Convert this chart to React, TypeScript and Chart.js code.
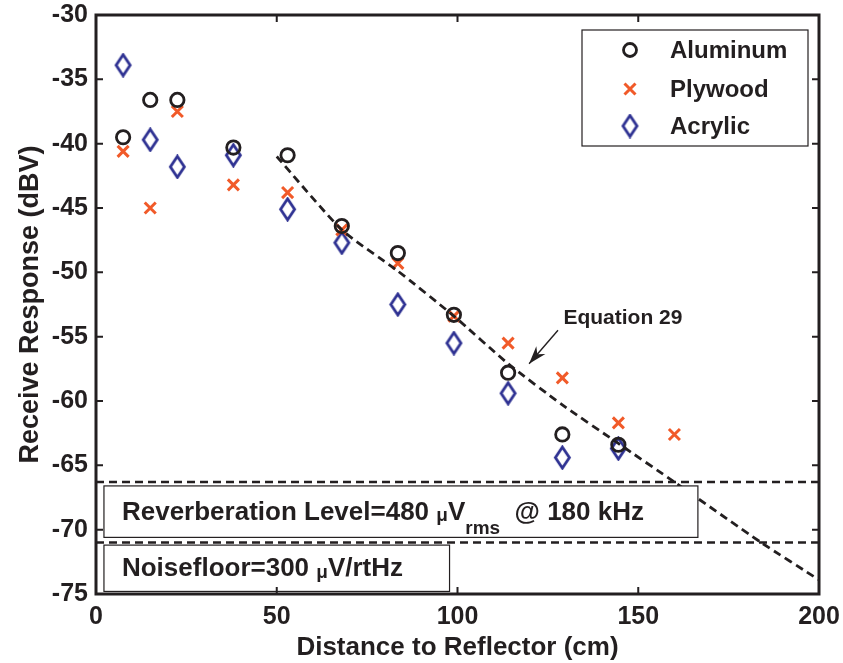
import React, { useEffect, useRef } from "react";
import { Chart, registerables } from "chart.js";

Chart.register(...registerables);

const distance = [7.5, 15, 22.5, 38, 53, 68, 83.5, 99, 114, 129, 144.5, 160];
const aluminum = [-39.5, -36.6, -36.6, -40.3, -40.9, -46.4, -48.5, -53.3, -57.8, -62.6, -63.4, null];
const plywood = [-40.6, -45.0, -37.5, -43.2, -43.8, -46.7, -49.3, -53.4, -55.5, -58.2, -61.7, -62.6];
const acrylic = [-33.9, -39.7, -41.8, -40.9, -45.1, -47.7, -52.5, -55.5, -59.4, -64.4, -63.7, null];
const equationX = [50, 68, 83.5, 99, 114, 129, 144.5, 160, 184, 200];
const equationY = [-41.0, -46.7, -49.9, -53.4, -57.1, -60.3, -63.3, -66.3, -71.0, -73.9];
const reverberationLevel = -66.3;
const noiseFloorLevel = -71.0;
const xTicks = [0, 50, 100, 150, 200];
const yTicks = [-30, -35, -40, -45, -50, -55, -60, -65, -70, -75];
const seriesNames = ["Aluminum", "Plywood", "Acrylic"];

const BLACK = "#231f20";
const ORANGE = "#f15a29";
const BLUE = "#2e3192";
const FONT = "'Liberation Sans', Arial, sans-serif";

function pts(xs: number[], ys: (number | null)[]) {
  const out: { x: number; y: number }[] = [];
  xs.forEach((x, i) => {
    const y = ys[i];
    if (y !== null && y !== undefined) out.push({ x, y });
  });
  return out;
}

function makeDiamond(): HTMLCanvasElement {
  const c = document.createElement("canvas");
  c.width = 19;
  c.height = 25;
  const g = c.getContext("2d")!;
  g.strokeStyle = BLUE;
  g.lineWidth = 2.8;
  g.beginPath();
  g.moveTo(9.5, 2);
  g.lineTo(16.5, 12.5);
  g.lineTo(9.5, 23);
  g.lineTo(2.5, 12.5);
  g.closePath();
  g.stroke();
  return c;
}

function drawCircle(ctx: CanvasRenderingContext2D, x: number, y: number) {
  ctx.save();
  ctx.strokeStyle = BLACK;
  ctx.lineWidth = 2.8;
  ctx.beginPath();
  ctx.arc(x, y, 6.5, 0, Math.PI * 2);
  ctx.stroke();
  ctx.restore();
}
function drawCross(ctx: CanvasRenderingContext2D, x: number, y: number) {
  ctx.save();
  ctx.strokeStyle = ORANGE;
  ctx.lineWidth = 3;
  const r = 5.5;
  ctx.beginPath();
  ctx.moveTo(x - r, y - r);
  ctx.lineTo(x + r, y + r);
  ctx.moveTo(x + r, y - r);
  ctx.lineTo(x - r, y + r);
  ctx.stroke();
  ctx.restore();
}

function makeFramePlugin(diamond: HTMLCanvasElement) {
  return {
    id: "frame",
    afterDraw(chart: any) {
      const ctx: CanvasRenderingContext2D = chart.ctx;
      const { left, right, top, bottom } = chart.chartArea;
      const xs = chart.scales.x;
      const ys = chart.scales.y;
      ctx.save();
      const boxes = [
        { x0: 2.2, x1: 166.5, y0: -66.6, y1: -70.6, parts: "reverb" },
        { x0: 2.2, x1: 97.8, y0: -71.2, y1: -74.8, parts: "noise" },
      ];
      boxes.forEach((b) => {
        const bx0 = xs.getPixelForValue(b.x0);
        const bx1 = xs.getPixelForValue(b.x1);
        const by0 = ys.getPixelForValue(b.y0);
        const by1 = ys.getPixelForValue(b.y1);
        ctx.fillStyle = "#ffffff";
        ctx.fillRect(bx0, by0, bx1 - bx0, by1 - by0);
        ctx.strokeStyle = BLACK;
        ctx.lineWidth = 1.2;
        ctx.strokeRect(bx0, by0, bx1 - bx0, by1 - by0);
        const cy = (by0 + by1) / 2 + 1;
        ctx.fillStyle = BLACK;
        ctx.textBaseline = "middle";
        ctx.textAlign = "left";
        let cx = bx0 + 18;
        const big = "bold 26px " + FONT;
        const small = "bold 19px " + FONT;
        const seg = (t: string, f: string, dy = 0) => {
          ctx.font = f;
          ctx.fillText(t, cx, cy + dy);
          cx += ctx.measureText(t).width;
        };
        if (b.parts === "reverb") {
          seg("Reverberation Level=480 ", big);
          seg("\u03bc", small, 3);
          seg("V", big);
          seg("rms", small, 16);
          seg("  @ 180 kHz", big);
        } else {
          seg("Noisefloor=300 ", big);
          seg("\u03bc", small, 3);
          seg("V/rtHz", big);
        }
      });

      ctx.strokeStyle = BLACK;
      ctx.lineWidth = 3;
      ctx.strokeRect(left, top, right - left, bottom - top);
      ctx.lineWidth = 2;
      const tl = 7;
      xTicks.forEach((v) => {
        const px = xs.getPixelForValue(v);
        ctx.beginPath();
        ctx.moveTo(px, bottom);
        ctx.lineTo(px, bottom - tl);
        ctx.moveTo(px, top);
        ctx.lineTo(px, top + tl);
        ctx.stroke();
      });
      yTicks.forEach((v) => {
        const py = ys.getPixelForValue(v);
        ctx.beginPath();
        ctx.moveTo(left, py);
        ctx.lineTo(left + tl, py);
        ctx.moveTo(right, py);
        ctx.lineTo(right - tl, py);
        ctx.stroke();
      });

      const lx0 = 582, ly0 = 30, lx1 = 808, ly1 = 146;
      ctx.fillStyle = "#ffffff";
      ctx.fillRect(lx0, ly0, lx1 - lx0, ly1 - ly0);
      ctx.lineWidth = 1.2;
      ctx.strokeRect(lx0, ly0, lx1 - lx0, ly1 - ly0);
      const rowsY = [50, 89, 126];
      ctx.font = "bold 24px " + FONT;
      ctx.textBaseline = "middle";
      ctx.textAlign = "left";
      ctx.fillStyle = BLACK;
      seriesNames.forEach((n, i) => {
        ctx.fillText(n, 670, rowsY[i] + 1);
      });
      drawCircle(ctx, 630, rowsY[0]);
      drawCross(ctx, 630, rowsY[1]);
      ctx.drawImage(diamond, 630 - 9.5, rowsY[2] - 12.5);

      ctx.font = "bold 21px " + FONT;
      ctx.fillStyle = BLACK;
      ctx.fillText("Equation 29", xs.getPixelForValue(129.3), ys.getPixelForValue(-53.6));
      const ax0 = xs.getPixelForValue(127.8), ay0 = ys.getPixelForValue(-54.5);
      const ax1 = xs.getPixelForValue(119.8), ay1 = ys.getPixelForValue(-57.1);
      ctx.strokeStyle = BLACK;
      ctx.lineWidth = 1.4;
      ctx.beginPath();
      ctx.moveTo(ax0, ay0);
      ctx.lineTo(ax1, ay1);
      ctx.stroke();
      const ang = Math.atan2(ay1 - ay0, ax1 - ax0);
      const hl = 18, hw = 6;
      ctx.beginPath();
      ctx.moveTo(ax1, ay1);
      ctx.lineTo(ax1 - hl * Math.cos(ang) + hw * Math.sin(ang), ay1 - hl * Math.sin(ang) - hw * Math.cos(ang));
      ctx.lineTo(ax1 - hl * 0.7 * Math.cos(ang), ay1 - hl * 0.7 * Math.sin(ang));
      ctx.lineTo(ax1 - hl * Math.cos(ang) - hw * Math.sin(ang), ay1 - hl * Math.sin(ang) + hw * Math.cos(ang));
      ctx.closePath();
      ctx.fillStyle = BLACK;
      ctx.fill();
      ctx.restore();
    },
  };
}

export default function App() {
  const ref = useRef<HTMLCanvasElement>(null);
  useEffect(() => {
    const diamond = makeDiamond();
    const chart: any = new Chart(ref.current!, {
      type: "scatter",
      data: {
        datasets: [
          {
            label: "Reverberation",
            data: [{ x: 0, y: reverberationLevel }, { x: 200, y: reverberationLevel }],
            showLine: true,
            borderColor: BLACK,
            borderWidth: 2.4,
            borderDash: [8, 5],
            pointRadius: 0,
          },
          {
            label: "Noisefloor",
            data: [{ x: 0, y: noiseFloorLevel }, { x: 200, y: noiseFloorLevel }],
            showLine: true,
            borderColor: BLACK,
            borderWidth: 2.4,
            borderDash: [8, 5],
            pointRadius: 0,
          },
          {
            label: "Equation 29",
            data: pts(equationX, equationY),
            showLine: true,
            borderColor: BLACK,
            borderWidth: 2.8,
            borderDash: [8, 5],
            pointRadius: 0,
            tension: 0.2,
          },
          {
            label: seriesNames[0],
            data: pts(distance, aluminum),
            pointStyle: "circle",
            pointRadius: 6.7,
            pointBorderWidth: 2.8,
            borderColor: BLACK,
            backgroundColor: "rgba(0,0,0,0)",
          },
          {
            label: seriesNames[1],
            data: pts(distance, plywood),
            pointStyle: "crossRot",
            pointRadius: 7.8,
            pointBorderWidth: 3,
            borderColor: ORANGE,
            backgroundColor: ORANGE,
          },
          {
            label: seriesNames[2],
            data: pts(distance, acrylic),
            pointStyle: diamond,
            pointRadius: 10,
            borderColor: BLUE,
            backgroundColor: BLUE,
          },
        ],
      },
      options: {
        responsive: false,
        animation: false,
        devicePixelRatio: 1,
        layout: { padding: { top: 14, right: 24, left: 0, bottom: 0 } },
        plugins: { legend: { display: false }, tooltip: { enabled: false } },
        scales: {
          x: {
            type: "linear",
            min: 0,
            max: 200,
            afterBuildTicks: (s: any) => {
              s.ticks = xTicks.map((v) => ({ value: v }));
            },
            afterFit: (s: any) => {
              s.height = 69;
            },
            grid: { display: false },
            border: { display: false },
            ticks: { color: BLACK, font: { family: FONT, size: 25, weight: "bold" }, padding: 0 },
            title: {
              display: true,
              text: "Distance to Reflector (cm)",
              color: BLACK,
              font: { family: FONT, size: 26, weight: "bold" },
              padding: { top: 0, bottom: 0 },
            },
          },
          y: {
            type: "linear",
            min: -75,
            max: -30,
            afterBuildTicks: (s: any) => {
              s.ticks = yTicks.map((v) => ({ value: v }));
            },
            afterFit: (s: any) => {
              s.width = 96;
            },
            grid: { display: false },
            border: { display: false },
            ticks: { color: BLACK, font: { family: FONT, size: 25, weight: "bold" }, padding: 0 },
            title: {
              display: true,
              text: "Receive Response (dBV)",
              color: BLACK,
              font: { family: FONT, size: 27, weight: "bold" },
              padding: { top: 14, bottom: 0 },
            },
          },
        },
      },
      plugins: [makeFramePlugin(diamond)],
    } as any);
    return () => chart.destroy();
  }, []);
  return (
    <div style={{ position: "fixed", left: 0, top: 0, width: 843, height: 663, background: "#fff" }}>
      <canvas ref={ref} width={843} height={663} style={{ width: 843, height: 663 }} />
    </div>
  );
}
